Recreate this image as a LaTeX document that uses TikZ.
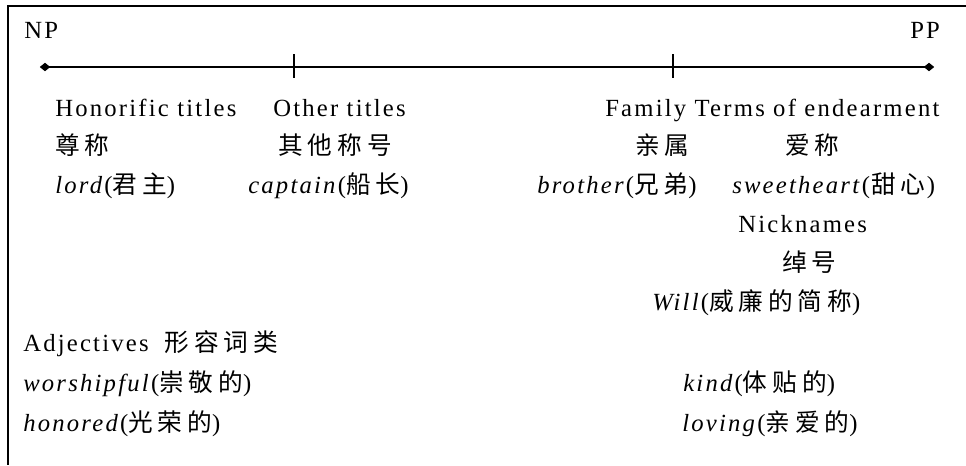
\documentclass[tikz,border=0pt]{standalone}
\usepackage{fontspec}
\usetikzlibrary{shapes.geometric}
\setmainfont{Liberation Serif}[LetterSpace=9,ItalicFeatures={LetterSpace=9}]
\newfontfamily\cjk{Noto Sans CJK SC}[LetterSpace=20]
\begin{document}
\begin{tikzpicture}[x=0.75pt,y=-0.75pt,
  lbl/.style={anchor=base west,inner sep=0pt,font=\fontsize{18.5}{20}\selectfont},
  frame/.style={line width=1.5pt},
  axis/.style={line width=1.1pt},
  tick/.style={line width=1.1pt},
  endpt/.style={diamond,fill=black,inner sep=0pt,minimum width=8pt,minimum height=6.5pt}]
\useasboundingbox (0,0) rectangle (966,465);
% frame (top and left only)
\draw[frame] (966,6) -- (8,6) -- (8,465);
% axis
\node[endpt] (np) at (45,67) {};
\node[endpt] (pp) at (929,67) {};
\draw[axis] (np.center) -- (pp.center);
\coordinate (t1a) at (294,54); \coordinate (t1b) at (294,78);
\coordinate (t2a) at (673,54); \coordinate (t2b) at (673,78);
\draw[tick] (t1a) -- (t1b);
\draw[tick] (t2a) -- (t2b);
% labels
\node[lbl] (NP) at (24,38) {NP};
\node[lbl] (PP) at (910,38) {PP};
\node[lbl] (hon) at (55,116) {Honorific titles};
\node[lbl] (oth) at (273,116) {Other titles};
\node[lbl] (fam) at (605,116) {Family Terms of endearment};
\node[lbl] (honc) at (55,154) {\cjk 尊称};
\node[lbl] (othc) at (278,154) {\cjk 其他称号};
\node[lbl] (famc) at (635,154) {\cjk 亲属};
\node[lbl] (endc) at (785,154) {\cjk 爱称};
\node[lbl] (lord) at (55,193) {\textit{lord}({\cjk 君主})};
\node[lbl] (capt) at (248,193) {\textit{captain}({\cjk 船长})};
\node[lbl] (brot) at (537,193) {\textit{brother}({\cjk 兄弟})};
\node[lbl] (swee) at (732,193) {\textit{sweetheart}(\hspace{1pt}{\cjk 甜心}\hspace{1pt})};
\node[lbl] (nick) at (738,232) {Nicknames};
\node[lbl] (nickc) at (782,271) {\cjk 绰号};
\node[lbl] (will) at (652,310) {\textit{Will}({\cjk 威廉的简称})};
\node[lbl] (adj) at (23,351) {Adjectives\hspace{12pt}{\cjk 形容词类}};
\node[lbl] (wor) at (23,391) {\textit{worshipful}({\cjk 崇敬的})};
\node[lbl] (hond) at (23,431) {\textit{honored}({\cjk 光荣的})};
\node[lbl] (kind) at (683,391) {\textit{kind}({\cjk 体贴的})};
\node[lbl] (lov) at (682,431) {\textit{loving}({\cjk 亲爱的})};
\end{tikzpicture}
\end{document}
